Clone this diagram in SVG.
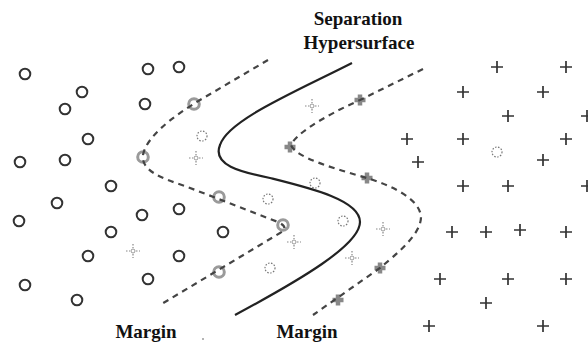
<svg xmlns="http://www.w3.org/2000/svg" xmlns:xlink="http://www.w3.org/1999/xlink" width="588" height="345" viewBox="0 0 588 345">
<style>
.lbl{font-family:"Liberation Serif","Times New Roman",serif;font-weight:bold;font-size:19px;fill:#111;text-anchor:middle}
.dash{fill:none;stroke:#444;stroke-width:2.2;stroke-dasharray:6 5}
.solid{fill:none;stroke:#222;stroke-width:2.2}
</style>
<defs>
<g id="c"><circle r="5.3" fill="none" stroke="#333" stroke-width="2"/></g>
<g id="sc"><circle r="5.3" fill="none" stroke="#9a9a9a" stroke-width="3"/></g>
<g id="p"><path d="M-6,0H6M0,-6V6" stroke="#333" stroke-width="1.7" fill="none"/></g>
<g id="sp"><path d="M-5.5,0H5.5M0,-5.5V5.5" stroke="#888" stroke-width="4.5" fill="none"/></g>
<g id="dc"><circle r="5" fill="none" stroke="#777" stroke-width="1.2" stroke-dasharray="1.5 1.5"/></g>
<g id="dp"><path d="M-7,0H-3M3,0H7M0,-7V-3M0,3V7" stroke="#888" stroke-width="1.2" stroke-dasharray="1.5 1.5" fill="none"/><circle r="2" fill="none" stroke="#999" stroke-width="1"/></g>
</defs>
<rect width="588" height="345" fill="#fff"/>

<g id="class-neg">
<use id="n1" href="#c" x="25" y="74"/>
<use id="n2" href="#c" x="82" y="92"/>
<use id="n3" href="#c" x="65" y="109"/>
<use id="n4" href="#c" x="88" y="139"/>
<use id="n5" href="#c" x="20" y="162"/>
<use id="n6" href="#c" x="65" y="160"/>
<use id="n7" href="#c" x="148" y="69"/>
<use id="n8" href="#c" x="179" y="67"/>
<use id="n9" href="#c" x="145" y="104"/>
<use id="n10" href="#c" x="111" y="186"/>
<use id="n11" href="#c" x="57" y="203"/>
<use id="n12" href="#c" x="19" y="221"/>
<use id="n13" href="#c" x="142" y="215"/>
<use id="n14" href="#c" x="179" y="209"/>
<use id="n15" href="#c" x="111" y="232"/>
<use id="n16" href="#c" x="223" y="232"/>
<use id="n17" href="#c" x="88" y="256"/>
<use id="n18" href="#c" x="179" y="256"/>
<use id="n19" href="#c" x="148" y="279"/>
<use id="n20" href="#c" x="25" y="285"/>
<use id="n21" href="#c" x="77" y="300"/>
</g>

<g id="class-pos">
<use id="q1" href="#p" x="497" y="67"/>
<use id="q2" href="#p" x="566" y="67"/>
<use id="q3" href="#p" x="463" y="92"/>
<use id="q4" href="#p" x="543" y="92"/>
<use id="q5" href="#p" x="508" y="116"/>
<use id="q6" href="#p" x="587" y="116"/>
<use id="q7" href="#p" x="407" y="139"/>
<use id="q8" href="#p" x="463" y="139"/>
<use id="q9" href="#p" x="566" y="139"/>
<use id="q10" href="#p" x="418" y="162"/>
<use id="q11" href="#p" x="543" y="160"/>
<use id="q12" href="#p" x="463" y="186"/>
<use id="q13" href="#p" x="508" y="186"/>
<use id="q14" href="#p" x="587" y="186"/>
<use id="q15" href="#p" x="452" y="232"/>
<use id="q16" href="#p" x="486" y="232"/>
<use id="q17" href="#p" x="520" y="230"/>
<use id="q18" href="#p" x="566" y="232"/>
<use id="q19" href="#p" x="440" y="279"/>
<use id="q20" href="#p" x="508" y="279"/>
<use id="q21" href="#p" x="566" y="279"/>
<use id="q22" href="#p" x="486" y="303"/>
<use id="q23" href="#p" x="429" y="326"/>
<use id="q24" href="#p" x="543" y="326"/>
</g>

<g id="unlabeled">
<use id="u1" href="#dc" x="202" y="136"/>
<use id="u2" href="#dc" x="315" y="183"/>
<use id="u3" href="#dc" x="268" y="199"/>
<use id="u4" href="#dc" x="343" y="221"/>
<use id="u5" href="#dc" x="270" y="268"/>
<use id="u6" href="#dc" x="497" y="152"/>
<use id="v1" href="#dp" x="196" y="158"/>
<use id="v2" href="#dp" x="312" y="106"/>
<use id="v3" href="#dp" x="294" y="242"/>
<use id="v4" href="#dp" x="383" y="229"/>
<use id="v5" href="#dp" x="352" y="258"/>
<use id="v6" href="#dp" x="133" y="251"/>
</g>

<g id="support-vectors">
<use id="s1" href="#sc" x="194" y="104"/>
<use id="s2" href="#sc" x="143" y="157"/>
<use id="s3" href="#sc" x="219" y="197"/>
<use id="s4" href="#sc" x="283" y="225"/>
<use id="s5" href="#sc" x="219" y="272"/>
<use id="t1" href="#sp" x="360" y="100"/>
<use id="t2" href="#sp" x="290" y="147"/>
<use id="t3" href="#sp" x="367" y="178"/>
<use id="t4" href="#sp" x="380" y="268"/>
<use id="t5" href="#sp" x="338" y="300"/>
</g>

<g id="connectors">
<path id="margin-left" class="dash" d="M268,60 L200,100 C170,118 146,138 143,155 C141,170 160,178 185,186 L278,222 Q290,228 280,233 L160,305"/>
<path id="hypersurface" class="solid" d="M352,63 C295,92 228,120 220,145 C212,165 240,172 270,178 C310,188 360,200 360,222 C360,245 300,280 235,315"/>
<path id="margin-right" class="dash" d="M423,69 L360,100 C320,118 295,135 291,145 C295,158 340,170 370,179 C395,187 420,200 421,217 C421,235 395,255 380,268 L313,315"/>
</g>

<g id="labels">
<text class="lbl" x="358" y="25">Separation</text>
<text class="lbl" x="359" y="49">Hypersurface</text>
<text class="lbl" x="146" y="338">Margin</text>
<text class="lbl" x="307" y="338">Margin</text>
<circle cx="203" cy="339" r="0.8" fill="#555"/>
</g>
</svg>
